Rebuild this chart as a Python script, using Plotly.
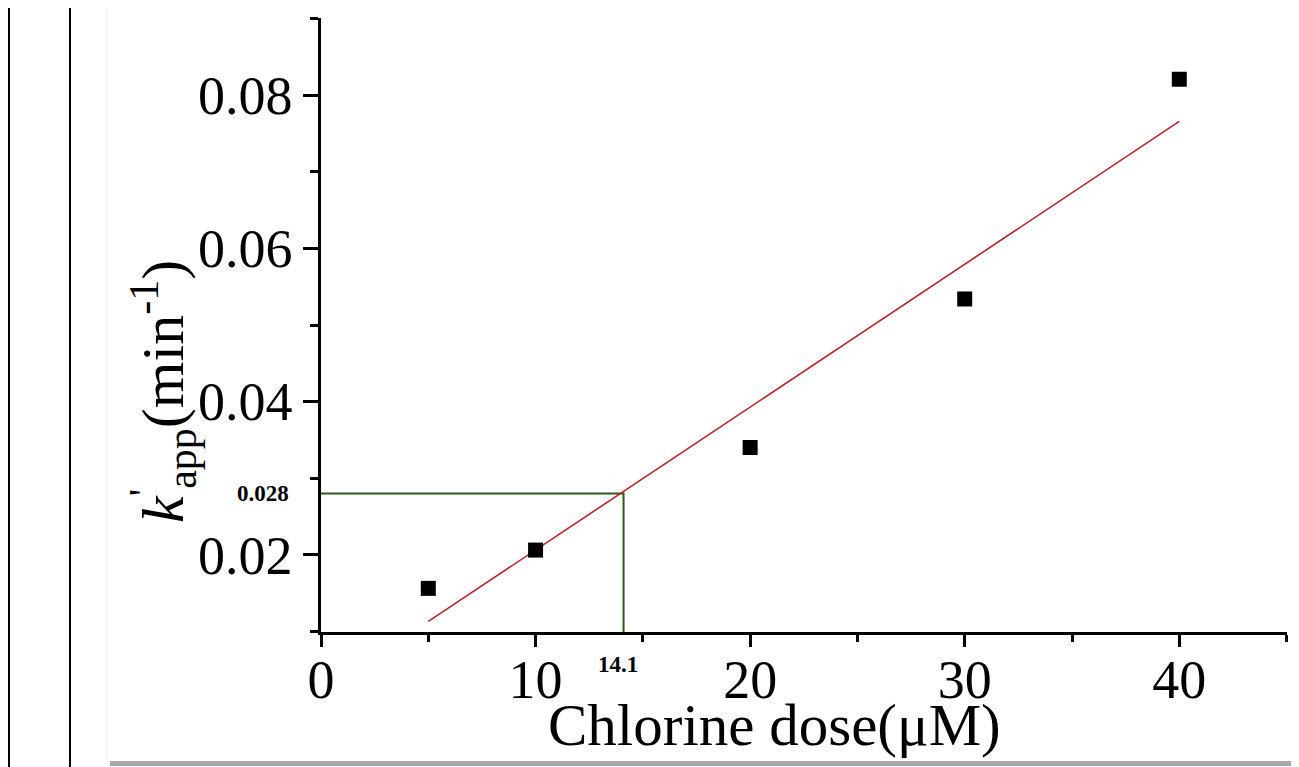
import numpy as np
import plotly.graph_objects as go

# ---- data ----
chlorine_dose = [5, 10, 20, 30, 40]                 # µM
k_app = [0.0156, 0.0206, 0.0340, 0.0534, 0.0821]     # min^-1
cross_x = 14.1
cross_y = 0.028
x_tick_vals = [0, 10, 20, 30, 40]
y_tick_vals = [0.02, 0.04, 0.06, 0.08]

# linear fit of the data
slope, intercept = np.polyfit(chlorine_dose, k_app, 1)
fit_x = [min(chlorine_dose), max(chlorine_dose)]
fit_y = [slope * v + intercept for v in fit_x]

OFF = 8                      # page body margin
W, H = 1299 - OFF, 767 - OFF
# plot area in screen pixels: x 321..1287, y 18..632
ML, MT = 321 - OFF, 18 - OFF
MR = W - (1287 - OFF)
MB = H - (632 - OFF)
PW, PH = W - ML - MR, H - MT - MB


def px(xs):
    return (xs - OFF - ML) / PW


def py(ys):
    return (H - MB - (ys - OFF)) / PH


FONT = "Liberation Serif"

fig = go.Figure()

# green guide lines
fig.add_trace(go.Scatter(
    x=[0, cross_x, cross_x], y=[cross_y, cross_y, 0.0099],
    mode="lines", line=dict(color="#2e5a1c", width=2),
    showlegend=False, hoverinfo="skip"))

# fit line
fig.add_trace(go.Scatter(
    x=fit_x, y=fit_y, mode="lines",
    line=dict(color="#b3242c", width=1.6),
    showlegend=False))

# data points
fig.add_trace(go.Scatter(
    x=chlorine_dose, y=k_app, mode="markers",
    marker=dict(symbol="square", size=15, color="black"),
    showlegend=False))

axis_common = dict(
    showline=True, linecolor="black", linewidth=2.5,
    ticks="outside", tickcolor="black", tickwidth=2.5,
    showgrid=False, zeroline=False,
    tickfont=dict(family=FONT, size=54, color="black"),
)

fig.update_xaxes(
    range=[0, 45.02], tickmode="array", tickvals=x_tick_vals,
    ticklen=12, ticklabelstandoff=-14,
    minor=dict(dtick=5, tick0=0, ticklen=7, tickwidth=2.5, tickcolor="black", ticks="outside"),
    **axis_common)
fig.update_yaxes(
    range=[0.0099, 0.0901], tickmode="array", tickvals=y_tick_vals,
    ticktext=[f"{v:.2f}" for v in y_tick_vals],
    ticklen=15,
    minor=dict(dtick=0.01, tick0=0, ticklen=8, tickwidth=2.5, tickcolor="black", ticks="outside"),
    **axis_common)

annotations = [
    dict(text="0.028", x=0, xref="x", y=cross_y, yref="y",
         xanchor="right", yanchor="middle", xshift=-30, showarrow=False,
         font=dict(family=FONT, size=23, color="black", weight="bold")),
    dict(text="14.1", x=cross_x, xref="x", y=0, yref="paper",
         xanchor="center", yanchor="top", xshift=-6, yshift=-18, showarrow=False,
         font=dict(family=FONT, size=23, color="black", weight="bold")),
    dict(text="Chlorine dose(μM)", x=px(774), xref="paper", y=py(725), yref="paper",
         xanchor="center", yanchor="middle", showarrow=False,
         font=dict(family=FONT, size=59, color="black")),
    dict(text="<i>k</i><sup>'</sup><sub>app</sub>(min<sup>-1</sup>)",
         x=px(163), xref="paper", y=py(392), yref="paper",
         xanchor="center", yanchor="middle", textangle=-90, showarrow=False,
         font=dict(family=FONT, size=60, color="black")),
]

shapes = [
    # outer frame lines on the left
    dict(type="line", xref="paper", yref="paper", x0=px(9), x1=px(9), y0=py(767), y1=py(0),
         line=dict(color="black", width=2)),
    dict(type="line", xref="paper", yref="paper", x0=px(70), x1=px(70), y0=py(767), y1=py(0),
         line=dict(color="black", width=2)),
    # faint panel edge
    dict(type="line", xref="paper", yref="paper", x0=px(107), x1=px(107), y0=py(9), y1=py(761),
         line=dict(color="#f2f2f2", width=1.5)),
    # shadows
    dict(type="rect", xref="paper", yref="paper", x0=px(1291), x1=px(1298), y0=py(766), y1=py(9),
         fillcolor="#a0a0a0", line=dict(width=0)),
    dict(type="rect", xref="paper", yref="paper", x0=px(110), x1=px(1298), y0=py(766), y1=py(761),
         fillcolor="#a8a8a8", line=dict(width=0)),
]

fig.update_layout(
    width=W, height=H,
    margin=dict(l=ML, r=MR, t=MT, b=MB),
    paper_bgcolor="white", plot_bgcolor="white",
    showlegend=False,
    annotations=annotations, shapes=shapes,
    font=dict(family=FONT, color="black"),
)

fig.write_html("out.html")
